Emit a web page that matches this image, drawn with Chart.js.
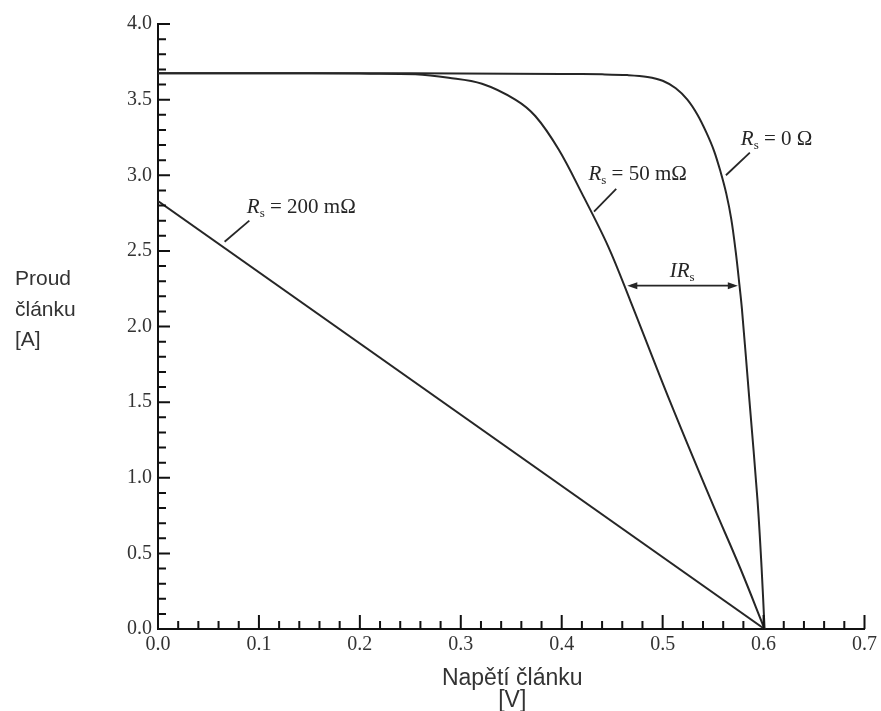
<!DOCTYPE html>
<html lang="cs">
<head>
<meta charset="utf-8">
<title>Proud článku vs. napětí článku</title>
<script src="https://cdn.jsdelivr.net/npm/chart.js@4.4.1/dist/chart.umd.min.js"></script>
<style>
  html, body { margin: 0; padding: 0; background: #fff; }
  #wrap { width: 881px; height: 711px; position: relative; }
</style>
</head>
<body>
<div id="wrap"><canvas id="chart"></canvas></div>
<script>
// I-V curves of a solar cell for three series resistances
const voltageRs0 = [0, 0.1, 0.2, 0.3, 0.4, 0.44, 0.465, 0.485, 0.5, 0.513, 0.5245, 0.5345, 0.5435, 0.551, 0.5575, 0.563, 0.568, 0.5725, 0.576, 0.5785, 0.586, 0.594, 0.598, 0.601];
const currentRs0 = [3.675, 3.675, 3.675, 3.673, 3.67, 3.667, 3.662, 3.65, 3.625, 3.575, 3.5, 3.4, 3.28, 3.16, 3.02, 2.88, 2.71, 2.49, 2.28, 2.12, 1.51, 0.85, 0.41, 0];

const voltageRs50 = [0, 0.1, 0.2, 0.255, 0.288, 0.321, 0.354, 0.374, 0.397, 0.42, 0.446, 0.468, 0.507, 0.548, 0.577, 0.601];
const currentRs50 = [3.675, 3.675, 3.672, 3.668, 3.645, 3.605, 3.5, 3.39, 3.17, 2.88, 2.53, 2.17, 1.51, 0.85, 0.4, 0];

const voltageRs200 = [0, 0.601];
const currentRs200 = [2.83, 0];

const xTicks = [0, 0.1, 0.2, 0.3, 0.4, 0.5, 0.6, 0.7];
const yTicks = [0, 0.5, 1, 1.5, 2, 2.5, 3, 3.5, 4];

const toPoints = (xs, ys) => xs.map((x, i) => ({ x, y: ys[i] }));

const serif = '"Liberation Serif", "DejaVu Serif", serif';
const sans = '"Liberation Sans", Arial, sans-serif';
const ink = "#262626";

// annotation labels, anchored in data units
const labels = [
  { text: " = 200 m\u03A9", at: [0.088, 2.75], from: [0.066, 2.56], to: [0.0905, 2.7] },
  { text: " = 50 m\u03A9", at: [0.4265, 2.97], from: [0.432, 2.76], to: [0.454, 2.91] },
  { text: " = 0 \u03A9", at: [0.5775, 3.2], from: [0.5627, 3.0], to: [0.5864, 3.15] },
];
const irArrow = { y: 2.27, from: 0.465, to: 0.5745, textAt: [0.507, 2.33] };

function drawRs(ctx, x, y, rest, prefix) {
  let cx = x;
  if (prefix) {
    ctx.font = `italic 21px ${serif}`;
    ctx.fillText(prefix, cx, y);
    cx += ctx.measureText(prefix).width;
  }
  ctx.font = `italic 21px ${serif}`;
  ctx.fillText("R", cx, y);
  cx += ctx.measureText("R").width;
  ctx.font = `13px ${serif}`;
  ctx.fillText("s", cx, y + 4);
  cx += ctx.measureText("s").width;
  if (rest) {
    ctx.font = `21px ${serif}`;
    ctx.fillText(rest, cx, y);
  }
}

function arrowHead(ctx, x, y, dir) {
  ctx.beginPath();
  ctx.moveTo(x, y);
  ctx.lineTo(x - dir * 10, y - 3.5);
  ctx.lineTo(x - dir * 10, y + 3.5);
  ctx.closePath();
  ctx.fill();
}

const decorations = {
  id: "decorations",
  afterDatasetsDraw(chart) {
    const { ctx, scales: { x, y } } = chart;
    ctx.save();

    // inward minor / major ticks
    ctx.strokeStyle = "#111";
    ctx.lineWidth = 2;
    ctx.beginPath();
    for (let i = 0; i <= 35; i++) {
      const px = x.getPixelForValue(i * 0.02);
      const len = i % 5 === 0 ? 14 : 8;
      ctx.moveTo(px, y.bottom);
      ctx.lineTo(px, y.bottom - len);
    }
    for (let i = 0; i <= 40; i++) {
      const py = y.getPixelForValue(i * 0.1);
      const len = i % 5 === 0 ? 12 : 8;
      ctx.moveTo(x.left, py);
      ctx.lineTo(x.left + len, py);
    }
    ctx.stroke();

    // curve labels with pointer lines
    ctx.fillStyle = ink;
    ctx.strokeStyle = ink;
    ctx.lineWidth = 1.8;
    ctx.textBaseline = "alphabetic";
    ctx.textAlign = "left";
    labels.forEach((l) => {
      ctx.beginPath();
      ctx.moveTo(x.getPixelForValue(l.from[0]), y.getPixelForValue(l.from[1]));
      ctx.lineTo(x.getPixelForValue(l.to[0]), y.getPixelForValue(l.to[1]));
      ctx.stroke();
      drawRs(ctx, x.getPixelForValue(l.at[0]), y.getPixelForValue(l.at[1]), l.text);
    });

    // IRs double arrow
    const ay = y.getPixelForValue(irArrow.y);
    const ax1 = x.getPixelForValue(irArrow.from);
    const ax2 = x.getPixelForValue(irArrow.to);
    ctx.beginPath();
    ctx.moveTo(ax1 + 4, ay);
    ctx.lineTo(ax2 - 4, ay);
    ctx.stroke();
    arrowHead(ctx, ax1, ay, -1);
    arrowHead(ctx, ax2, ay, 1);
    drawRs(ctx, x.getPixelForValue(irArrow.textAt[0]), y.getPixelForValue(irArrow.textAt[1]), "", "I");

    // axis titles
    ctx.fillStyle = "#333";
    ctx.font = `21px ${sans}`;
    ctx.textAlign = "left";
    ["Proud", "\u010Dl\u00E1nku", "[A]"].forEach((t, i) => ctx.fillText(t, 15, 285 + i * 30.5));
    ctx.font = `23px ${sans}`;
    ctx.textAlign = "center";
    const cx = (x.getPixelForValue(0.3) + x.getPixelForValue(0.4)) / 2 + 1;
    ctx.fillText("Nap\u011Bt\u00ED \u010Dl\u00E1nku", cx, 685);
    ctx.fillText("[V]", cx, 707);

    ctx.restore();
  },
};

const curve = (data) => ({
  data,
  showLine: true,
  borderColor: ink,
  borderWidth: 2,
  pointRadius: 0,
  tension: 0.35,
  fill: false,
});

new Chart(document.getElementById("chart"), {
  type: "scatter",
  data: {
    datasets: [
      curve(toPoints(voltageRs0, currentRs0)),
      curve(toPoints(voltageRs50, currentRs50)),
      { ...curve(toPoints(voltageRs200, currentRs200)), tension: 0 },
    ],
  },
  options: {
    responsive: true,
    maintainAspectRatio: false,
    animation: false,
    layout: { padding: { top: 24, right: 14, bottom: 0, left: 0 } },
    plugins: {
      legend: { display: false },
      tooltip: { enabled: false },
    },
    scales: {
      x: {
        type: "linear",
        min: 0,
        max: 0.7,
        afterFit: (s) => { s.height = 82; },
        afterBuildTicks: (s) => { s.ticks = xTicks.map((v) => ({ value: v })); },
        ticks: {
          color: "#333",
          padding: 4,
          font: { family: serif, size: 20 },
          callback: (v) => Number(v).toFixed(1),
        },
        grid: { display: false, drawTicks: false },
        border: { display: true, color: "#111", width: 2 },
      },
      y: {
        type: "linear",
        min: 0,
        max: 4,
        afterFit: (s) => { s.width = 158; },
        afterBuildTicks: (s) => { s.ticks = yTicks.map((v) => ({ value: v })); },
        ticks: {
          color: "#333",
          padding: 6,
          font: { family: serif, size: 20 },
          callback: (v) => Number(v).toFixed(1),
        },
        grid: { display: false, drawTicks: false },
        border: { display: true, color: "#111", width: 2 },
      },
    },
  },
  plugins: [decorations],
});
</script>
</body>
</html>
